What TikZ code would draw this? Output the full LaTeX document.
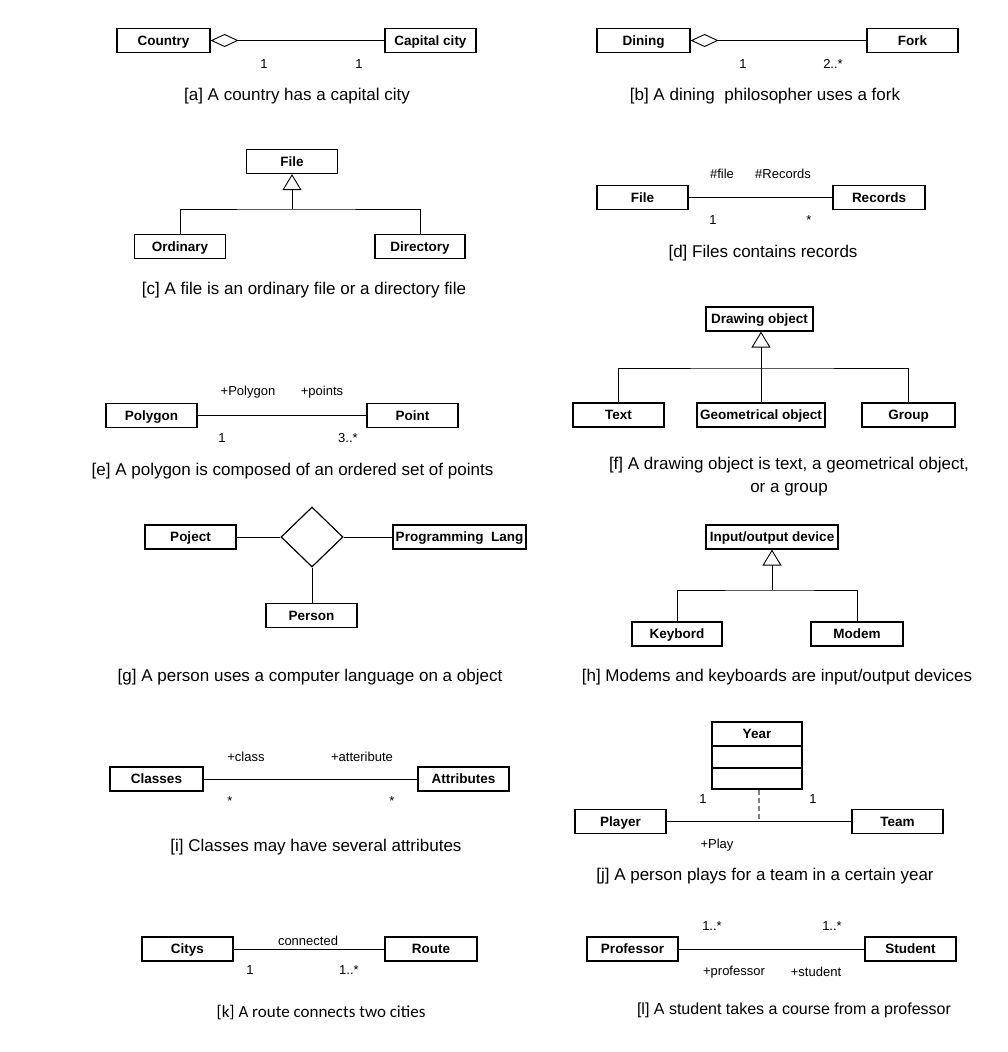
\documentclass[tikz,border=0pt]{standalone}
\usepackage{fontspec}
\setmainfont{Liberation Sans}
\newfontfamily\capfont{Carlito}
\usetikzlibrary{arrows.meta,shapes.geometric}
\begin{document}
\begin{tikzpicture}[x=1pt,y=-1pt,
  cls/.style={draw,line width=1.2pt,minimum height=24pt,inner sep=0pt,
    text height=10.8pt,text depth=1.4pt,
    font=\fontsize{13.5}{15}\selectfont\bfseries},
  lnk/.style={line width=0.9pt},
  lbl/.style={font=\fontsize{13}{15}\selectfont,inner sep=0pt},
  capt/.style={font=\fontsize{17}{20}\selectfont,inner sep=0pt,align=center},
  agg/.style={{Diamond[open,length=28pt,width=13pt,line width=0.9pt]}-},
  gen/.style={-{Triangle[open,length=16pt,width=19pt,line width=0.9pt]}}]
\fill[white] (0,0) rectangle (1007,1052);
\useasboundingbox (0,0) rectangle (1007,1052);

% [a] aggregation: country / capital city
\node[cls,minimum width=93pt] (country) at (163.5,40.5) {Country};
\node[cls,minimum width=91pt] (capital) at (430.5,40.5) {Capital city};
\draw[lnk,agg] (country) -- (capital);
\node[lbl] (a1) at (264,64) {1};
\node[lbl] (a2) at (359,64) {1};
\node[capt] (capa) at (297,96) {[a] A country has a capital city};

% [b] aggregation: dining / fork
\node[cls,minimum width=93pt] (dining) at (643.5,40.5) {Dining};
\node[cls,minimum width=91pt] (fork) at (912.5,40.5) {Fork};
\draw[lnk,agg] (dining) -- (fork);
\node[lbl] (b1) at (743,64) {1};
\node[lbl] (b2) at (833,64) {2..*};
\node[capt] (capb) at (765,96) {[b] A dining\ \ philosopher uses a fork};

% [c] generalization: file
\node[cls,minimum width=91pt] (cfile) at (292,161.5) {File};
\node[cls,minimum width=91pt] (ordinary) at (180,246.5) {Ordinary};
\node[cls,minimum width=90pt] (directory) at (420,246.5) {Directory};
\coordinate (cj) at (292,209);
\draw[lnk] (ordinary.north) |- (cj) -| (directory.north);
\draw[lnk,gen] (cj) -- (cfile.south);
\node[capt] (capc) at (304,290) {[c] A file is an ordinary file or a directory file};

% [d] association: file / records
\node[cls,minimum width=91pt] (dfile) at (642.5,197.5) {File};
\node[cls,minimum width=92pt] (records) at (879,197.5) {Records};
\draw[lnk] (dfile) -- (records);
\node[lbl] (d1) at (722,174) {\#file};
\node[lbl] (d2) at (783,174) {\#Records};
\node[lbl] (d3) at (713,220) {1};
\node[lbl] (d4) at (809,220) {*};
\node[capt] (capd) at (763,253) {[d] Files contains records};

% [e] association: polygon / point
\node[cls,minimum width=91pt] (polygon) at (151.5,415.5) {Polygon};
\node[cls,minimum width=91pt] (point) at (412.5,415.5) {Point};
\draw[lnk] (polygon) -- (point);
\node[lbl] (e1) at (248,392) {+Polygon};
\node[lbl] (e2) at (322,392) {+points};
\node[lbl] (e3) at (222,438) {1};
\node[lbl] (e4) at (348,438) {3..*};
\node[capt] (cape) at (292.5,471) {[e] A polygon is composed of an ordered set of points};

% [f] generalization: drawing object
\node[cls,minimum width=107pt] (drawobj) at (759.5,319) {Drawing object};
\node[cls,minimum width=91pt] (text) at (618.5,415) {Text};
\node[cls,minimum width=128pt] (geom) at (761,415) {Geometrical object};
\node[cls,minimum width=93pt] (group) at (908.5,415) {Group};
\coordinate (fj) at (761,368);
\draw[lnk] (text.north) |- (fj) -| (group.north);
\draw[lnk,gen] (geom.north) -- (geom.north |- drawobj.south);
\node[capt] (capf) at (789,477) {[f] A drawing object is text, a geometrical object,\\[3pt]or a group};

% [g] ternary association
\node[cls,minimum width=91pt] (poject) at (190.5,537) {Poject};
\node[cls,minimum width=133pt] (proglang) at (459.5,537) {Programming\ \ Lang};
\node[cls,minimum width=91pt] (person) at (311.5,615.5) {Person};
\node[draw,line width=1.2pt,shape=diamond,aspect=1,minimum width=62pt,minimum height=60pt,inner sep=0pt] (tern) at (312,537) {};
\draw[lnk] (poject) -- (tern.west);
\draw[lnk] (tern.east) -- (proglang);
\draw[lnk] (tern.south) -- (person.north -| tern.south);
\node[capt] (capg) at (310,677) {[g] A person uses a computer language on a object};

% [h] generalization: input/output device
\node[cls,minimum width=132pt] (iodev) at (772,537) {Input/output device};
\node[cls,minimum width=90pt] (keybord) at (677,634) {Keybord};
\node[cls,minimum width=92pt] (modem) at (857,634) {Modem};
\coordinate (hj) at (772,590);
\draw[lnk] (keybord.north) |- (hj) -| (modem.north);
\draw[lnk,gen] (hj) -- (iodev.south);
\node[capt] (caph) at (777,677) {[h] Modems and keyboards are input/output devices};

% [i] association: classes / attributes
\node[cls,minimum width=93pt] (classes) at (156.5,779) {Classes};
\node[cls,minimum width=91pt] (attrs) at (463.5,779) {Attributes};
\draw[lnk] (classes) -- (attrs);
\node[lbl] (i1) at (246,757) {+class};
\node[lbl] (i2) at (362,757) {+atteribute};
\node[lbl] (i3) at (230,801) {*};
\node[lbl] (i4) at (392,801) {*};
\node[capt] (capi) at (316,847) {[i] Classes may have several attributes};

% [j] association class: year
\node[cls,minimum width=90pt] (year) at (757,734) {Year};
\node[cls,minimum width=90pt,minimum height=22pt] (yearb) at (757,757) {};
\node[cls,minimum width=90pt,minimum height=21pt] (yearc) at (757,778.5) {};
\node[cls,minimum width=91pt] (player) at (620.5,821.5) {Player};
\node[cls,minimum width=91pt] (team) at (897.5,821.5) {Team};
\draw[lnk] (player) -- coordinate (jmid) (team);
\draw[line width=1.1pt,gray,dash pattern=on 5pt off 3pt] (yearc.south -| jmid) -- (jmid);
\node[lbl] (j1) at (703,799) {1};
\node[lbl] (j2) at (813,799) {1};
\node[lbl] (j3) at (717,845) {+Play};
\node[capt] (capj) at (765,876) {[j] A person plays for a team in a certain year};

% [k] association: citys / route
\node[cls,minimum width=91pt] (citys) at (187.5,949) {Citys};
\node[cls,minimum width=92pt] (route) at (431,949) {Route};
\draw[lnk] (citys) -- (route);
\node[lbl] (k0) at (308,941) {connected};
\node[lbl] (k1) at (250,970) {1};
\node[lbl] (k2) at (349,970) {1..*};
\node[capt,font=\capfont\fontsize{17}{20}\selectfont] (capk) at (321,1013) {[k] A route connects two cities};

% [l] association: professor / student
\node[cls,minimum width=91pt] (professor) at (632.5,949) {Professor};
\node[cls,minimum width=91pt] (student) at (910.5,949) {Student};
\draw[lnk] (professor) -- (student);
\node[lbl] (l1) at (712,926) {1..*};
\node[lbl] (l2) at (832,926) {1..*};
\node[lbl] (l3) at (734,972) {+professor};
\node[lbl] (l4) at (816,972) {+student};
\node[capt,font=\fontsize{16}{19}\selectfont] (capl) at (794,1010) {[l] A student takes a course from a professor};
\end{tikzpicture}
\end{document}
